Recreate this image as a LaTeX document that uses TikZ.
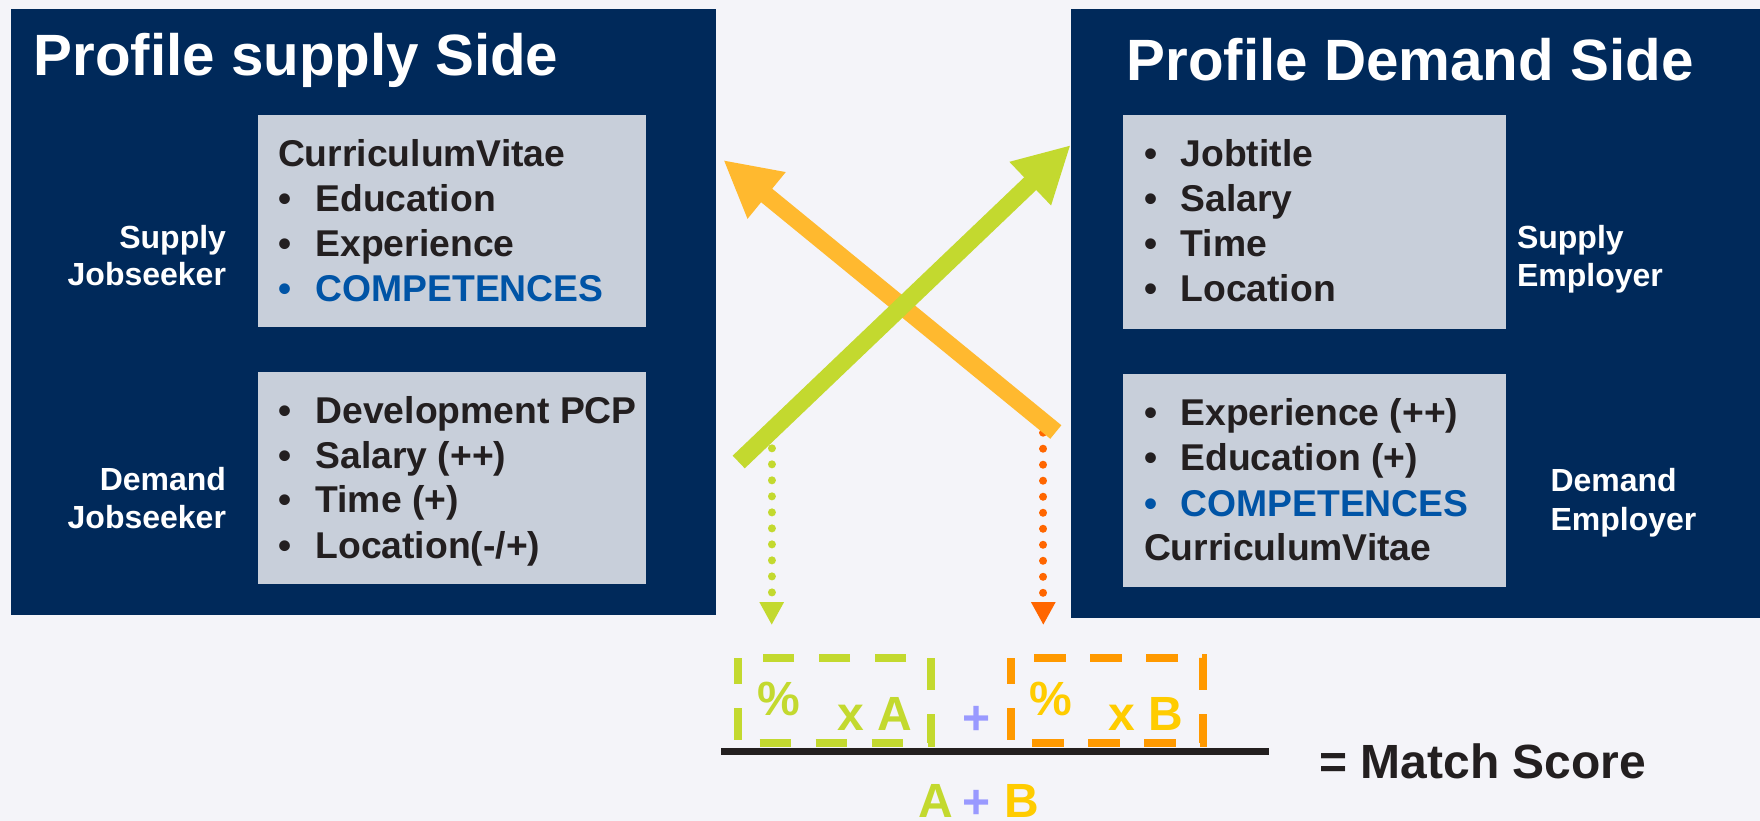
\documentclass[tikz,border=0pt]{standalone}
\usepackage{fontspec}
\setmainfont{Liberation Sans}
\usetikzlibrary{arrows.meta}
\definecolor{bg}{HTML}{F4F4F9}
\definecolor{navy}{HTML}{00295A}
\definecolor{panel}{HTML}{C8CFDA}
\definecolor{ink}{HTML}{231F20}
\definecolor{comp}{HTML}{0054A6}
\definecolor{lime}{HTML}{C3D92F}
\definecolor{amber}{HTML}{FFB92F}
\definecolor{tangerine}{HTML}{FF6600}
\definecolor{dashorange}{HTML}{FF9900}
\definecolor{gold}{HTML}{FFCC00}
\definecolor{lav}{HTML}{9999FF}
\newcommand\bulitem[6]{%
  \node[item,text=#6] (#1b) at (#2,#4) {•};
  \node[item,text=#6] (#1) at (#3,#4) {#5};}
\begin{document}
\begin{tikzpicture}[x=1pt,y=-1pt,
  every node/.style={inner sep=0pt,outer sep=0pt},
  sidebox/.style={fill=navy,anchor=north west},
  panelbox/.style={fill=panel,anchor=north west,minimum width=#1},
  title/.style={anchor=base west,text=white,font=\fontsize{58.3}{70}\selectfont\bfseries},
  item/.style={anchor=base west,text=ink,font=\fontsize{37.3}{44}\selectfont\bfseries},
  role/.style={text=white,font=\fontsize{32}{38}\selectfont\bfseries},
  bigarrow/.style={line width=17.5pt,-{Triangle[width=56pt,length=56pt]}},
  dotline/.style={line width=8pt,line cap=round,dash pattern=on 0.01pt off 16pt,-{Triangle[width=23pt,length=23pt]}},
  dashbox/.style={line width=8pt,dash pattern=on 31.5pt off 24.5pt,dash phase=6pt},
  calc/.style={anchor=base west,font=\fontsize{48}{58}\selectfont\bfseries},
]
\useasboundingbox (0,0) rectangle (1760,821);
\fill[bg] (0,0) rectangle (1760,821);

% dark side boxes
\node[sidebox,minimum width=705pt,minimum height=606pt] (supply) at (11,9) {};
\node[sidebox,minimum width=689pt,minimum height=608.7pt] (demand) at (1071,9) {};

% light panels
\node[panelbox=388pt,minimum height=212pt] (p1) at (258,115) {};
\node[panelbox=388pt,minimum height=212pt] (p2) at (258,372) {};
\node[panelbox=383pt,minimum height=214pt] (p3) at (1123,115) {};
\node[panelbox=383pt,minimum height=213pt] (p4) at (1123,374) {};

% titles
\node[title] (tL) at (33.5,76) {Profile supply Side};
\node[title] (tR) at (1126.5,80.7) {Profile Demand Side};

% left panel 1
\node[item] (a1) at (278,166.7) {CurriculumVitae};
\bulitem{a2}{278.5}{315.5}{211.7}{Education}{ink}
\bulitem{a3}{278.5}{315.5}{256.7}{Experience}{ink}
\bulitem{a4}{278.5}{315.5}{301.7}{COMPETENCES}{comp}

% left panel 2
\bulitem{b1}{278.5}{315.5}{423.4}{Development PCP}{ink}
\bulitem{b2}{278.5}{315.5}{468}{Salary (++)}{ink}
\bulitem{b3}{278.5}{315.5}{512}{Time (+)}{ink}
\bulitem{b4}{278.5}{315.5}{558}{Location(-/+)}{ink}

% right panel 1
\bulitem{c1}{1144}{1180.5}{166.7}{Jobtitle}{ink}
\bulitem{c2}{1144}{1180.5}{211.7}{Salary}{ink}
\bulitem{c3}{1144}{1180.5}{256.7}{Time}{ink}
\bulitem{c4}{1144}{1180.5}{301.7}{Location}{ink}

% right panel 2
\bulitem{d1}{1144}{1180.5}{425}{Experience (++)}{ink}
\bulitem{d2}{1144}{1180.5}{470.7}{Education (+)}{ink}
\bulitem{d3}{1144}{1180.5}{516}{COMPETENCES}{comp}
\node[item] (d4) at (1144,560) {CurriculumVitae};

% role labels
\node[role,anchor=base east] (sj1) at (226,248) {Supply};
\node[role,anchor=base east] (sj2) at (226,285) {Jobseeker};
\node[role,anchor=base east] (dj1) at (226,490.7) {Demand};
\node[role,anchor=base east] (dj2) at (226,528) {Jobseeker};
\node[role,anchor=base west] (se1) at (1517,248) {Supply};
\node[role,anchor=base west] (se2) at (1517,286) {Employer};
\node[role,anchor=base west] (de1) at (1550.5,491.7) {Demand};
\node[role,anchor=base west] (de2) at (1550.5,530) {Employer};

% dotted arrows
\coordinate (gTop) at (771.7,432.3);
\coordinate (gBot) at (771.7,625);
\coordinate (oTop) at (1043.3,432.7);
\coordinate (oBot) at (1043.3,625);
\draw[dotline,color=lime] (gTop) -- (gBot);
\draw[dotline,color=tangerine] (oTop) -- (oBot);

% big crossing arrows
\coordinate (oTail) at (1055.8,432);
\coordinate (oTip) at (723.3,160);
\coordinate (gTail) at (738.7,462);
\coordinate (gTip) at (1070.7,145);
\draw[bigarrow,amber] (oTail) -- (oTip);
\draw[bigarrow,lime] (gTail) -- (gTip);

% dashed boxes
\draw[dashbox,lime] (738.4,658.3) -- (738.4,743) -- (930.5,743) -- (930.5,658.3) -- cycle;
\draw[dashbox,dashorange] (1010.9,658.3) -- (1010.9,743) -- (1202.7,743) -- (1202.7,658.3) -- cycle;

% fraction
\node[calc,text=lime] (pA) at (757,715) {\%};
\node[calc,text=lime] (xA) at (837.5,730) {x A};
\node[calc,text=gold] (pB) at (1029.5,715) {\%};
\node[calc,text=gold] (xB) at (1108,730) {x B};
\node[font=\fontsize{48}{58}\selectfont\bfseries,text=lav] (plus1) at (976.3,720) {+};
\coordinate (barL) at (721,751.3);
\coordinate (barR) at (1269,751.3);
\draw[line width=7.3pt,ink] (barL) -- (barR);
\node[calc,text=lime] (sA) at (918,817) {A};
\node[font=\fontsize{48}{58}\selectfont\bfseries,text=lav] (plus2) at (976.3,804.5) {+};
\node[calc,text=gold] (sB) at (1004,817) {B};
\node[anchor=base west,text=ink,font=\fontsize{48}{56}\selectfont\bfseries] (ms) at (1319.5,778) {= Match Score};
\end{tikzpicture}
\end{document}
